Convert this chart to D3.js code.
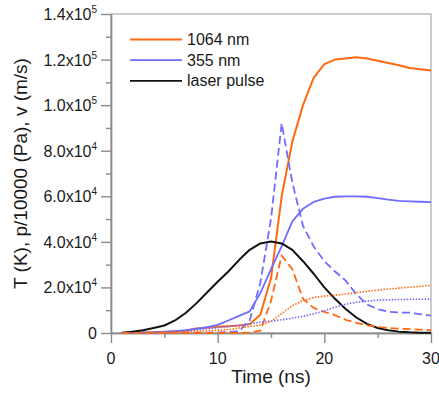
<!DOCTYPE html>
<html>
<head>
<meta charset="utf-8">
<script src="https://cdn.jsdelivr.net/npm/d3@7"></script>
<style>
  body { margin: 0; background: #fff; }
  svg { display: block; font-family: "Liberation Sans", Arial, sans-serif; }
</style>
</head>
<body>
<div id="chart"></div>
<script>
// time axis (ns)
const time = [1, 2, 3, 4, 5, 6, 7, 8, 9, 10, 11, 12, 13, 14, 15, 16, 17, 18, 19, 20, 21, 22, 23, 24, 25, 26, 27, 28, 29, 30];

// temperature (K)
const temp1064 = [0, 100, 200, 300, 500, 700, 1000, 2000, 2300, 2700, 3000, 3300, 3800, 8000, 24000, 60000, 84000, 100000, 112000, 118000, 120000, 120500, 121000, 120500, 119500, 118500, 117500, 116300, 115800, 115200];
const temp355 = [0, 100, 200, 300, 500, 800, 1200, 1800, 2600, 3600, 5500, 7500, 9500, 17500, 28000, 38000, 49000, 54500, 57500, 59000, 59800, 60000, 60000, 59800, 59200, 58500, 58000, 57800, 57600, 57400];

// pressure / 10000 (Pa)
const pres1064 = [0, 0, 0, 0, 0, 0, 0, 0, 0, 0, 0, 0, 200, 1000, 14000, 34000, 28000, 15000, 11000, 9300, 7800, 5800, 4400, 3400, 2700, 2200, 1900, 1700, 1500, 1300];
const pres355 = [0, 0, 0, 0, 0, 0, 100, 100, 200, 300, 400, 800, 5500, 22000, 50000, 92000, 66000, 47000, 38000, 31500, 27000, 23000, 17000, 12500, 10500, 9300, 9000, 8900, 8300, 7600];

// velocity (m/s)
const vel1064 = [0, 50, 100, 200, 300, 450, 600, 800, 1000, 1200, 1500, 2200, 2800, 3500, 5000, 8500, 12000, 14200, 15600, 16200, 16600, 17100, 17700, 18300, 18800, 19300, 19700, 20100, 20500, 20900];
const vel355 = [0, 50, 150, 300, 500, 700, 1000, 1500, 1900, 2300, 2800, 3400, 4000, 4800, 5300, 5800, 6500, 7300, 8400, 9700, 11300, 12600, 13500, 14000, 14400, 14600, 14700, 14800, 14800, 14900];

// laser pulse
const pulse = [100, 600, 1200, 2200, 3300, 5500, 8800, 13000, 17800, 22500, 27000, 32000, 36500, 39300, 40200, 39300, 36500, 31500, 26000, 20000, 15000, 10500, 6800, 4000, 2200, 1200, 600, 300, 150, 100];

const xTicks = [0, 10, 20, 30];
const xMinor = [5, 15, 25];
const yTicks = [0, 20000, 40000, 60000, 80000, 100000, 120000, 140000];
const yTickMant = ["0", "2.0x10", "4.0x10", "6.0x10", "8.0x10", "1.0x10", "1.2x10", "1.4x10"];
const yTickExp = ["", "4", "4", "4", "4", "5", "5", "5"];
const yMinor = [10000, 30000, 50000, 70000, 90000, 110000, 130000];

const legendNames = ["1064 nm", "355 nm", "laser pulse"];

const orange = "#ff6a10";
const blue = "#6f6cff";
const black = "#111";

const series = [
  { values: temp1064, color: orange, dash: null, width: 2 },
  { values: temp355, color: blue, dash: null, width: 1.8 },
  { values: pulse, color: black, dash: null, width: 2 },
  { values: pres355, color: blue, dash: "8,4", width: 1.8 },
  { values: pres1064, color: orange, dash: "8,4", width: 1.8 },
  { values: vel355, color: blue, dash: "1.5,1.5", width: 1.6 },
  { values: vel1064, color: orange, dash: "1.5,1.5", width: 1.6 }
];

const W = 439, H = 394;
const margin = { top: 14, right: 8, bottom: 61, left: 111 };

const svg = d3.select("#chart").append("svg")
  .attr("width", W).attr("height", H);

const x = d3.scaleLinear().domain([0, 30]).range([margin.left, W - margin.right]);
const y = d3.scaleLinear().domain([0, 140000]).range([H - margin.bottom, margin.top]);

const axisColor = "#8c8c8c";

// frame
svg.append("rect")
  .attr("x", x(0)).attr("y", y(140000))
  .attr("width", x(30) - x(0)).attr("height", y(0) - y(140000))
  .attr("fill", "none").attr("stroke", "#aaa").attr("stroke-width", 1.2);

// y axis, major + minor
svg.append("g").attr("transform", `translate(${x(0)},0)`)
  .call(d3.axisLeft(y).tickValues(yTicks).tickSizeInner(10).tickSizeOuter(0).tickFormat(""));
svg.append("g").attr("transform", `translate(${x(0)},0)`)
  .call(d3.axisLeft(y).tickValues(yMinor).tickSizeInner(5).tickSizeOuter(0).tickFormat(""));

// x axis
svg.append("g").attr("transform", `translate(0,${y(0)})`)
  .call(d3.axisBottom(x).tickValues(xTicks).tickSizeInner(10).tickSizeOuter(0).tickFormat(""));
svg.append("g").attr("transform", `translate(0,${y(0)})`)
  .call(d3.axisBottom(x).tickValues(xMinor).tickSizeInner(5).tickSizeOuter(0).tickFormat(""));

svg.selectAll(".domain, .tick line").attr("stroke", axisColor).attr("stroke-width", 1.4);

// y tick labels with superscripts
yTicks.forEach((v, i) => {
  const t = svg.append("text")
    .attr("x", x(0) - 14).attr("y", y(v) + 6)
    .attr("text-anchor", "end")
    .attr("font-size", 16).attr("fill", "#1a1a1a");
  t.append("tspan").text(yTickMant[i]);
  if (yTickExp[i]) {
    t.append("tspan").attr("dy", -7).attr("font-size", 10).text(yTickExp[i]);
  }
});

// x tick labels
svg.selectAll(".xlab").data(xTicks).enter().append("text")
  .attr("x", d => x(d)).attr("y", y(0) + 31)
  .attr("text-anchor", "middle").attr("font-size", 16).attr("fill", "#1a1a1a")
  .text(d => d);

// axis titles
svg.append("text")
  .attr("x", (x(0) + x(30)) / 2).attr("y", 383)
  .attr("text-anchor", "middle").attr("font-size", 19).attr("fill", "#1a1a1a")
  .text("Time (ns)");

svg.append("text")
  .attr("transform", `translate(27,${(y(0) + y(140000)) / 2}) rotate(-90)`)
  .attr("text-anchor", "middle").attr("font-size", 19).attr("fill", "#1a1a1a")
  .text("T (K), p/10000 (Pa), v (m/s)");

// lines
const line = d3.line().x((d, i) => x(time[i])).y(d => y(d));

series.forEach(s => {
  svg.append("path")
    .datum(s.values)
    .attr("fill", "none")
    .attr("stroke", s.color)
    .attr("stroke-width", s.width)
    .attr("stroke-dasharray", s.dash)
    .attr("stroke-linejoin", "round")
    .attr("d", line);
});

// legend
const legendColors = [orange, blue, black];
legendNames.forEach((name, i) => {
  const ly = 39.5 + i * 20.7;
  svg.append("line")
    .attr("x1", 130).attr("x2", 182).attr("y1", ly).attr("y2", ly)
    .attr("stroke", legendColors[i]).attr("stroke-width", 1.8);
  svg.append("text")
    .attr("x", 187).attr("y", ly + 5.5)
    .attr("font-size", 16).attr("fill", "#1a1a1a")
    .text(name);
});
</script>
</body>
</html>
